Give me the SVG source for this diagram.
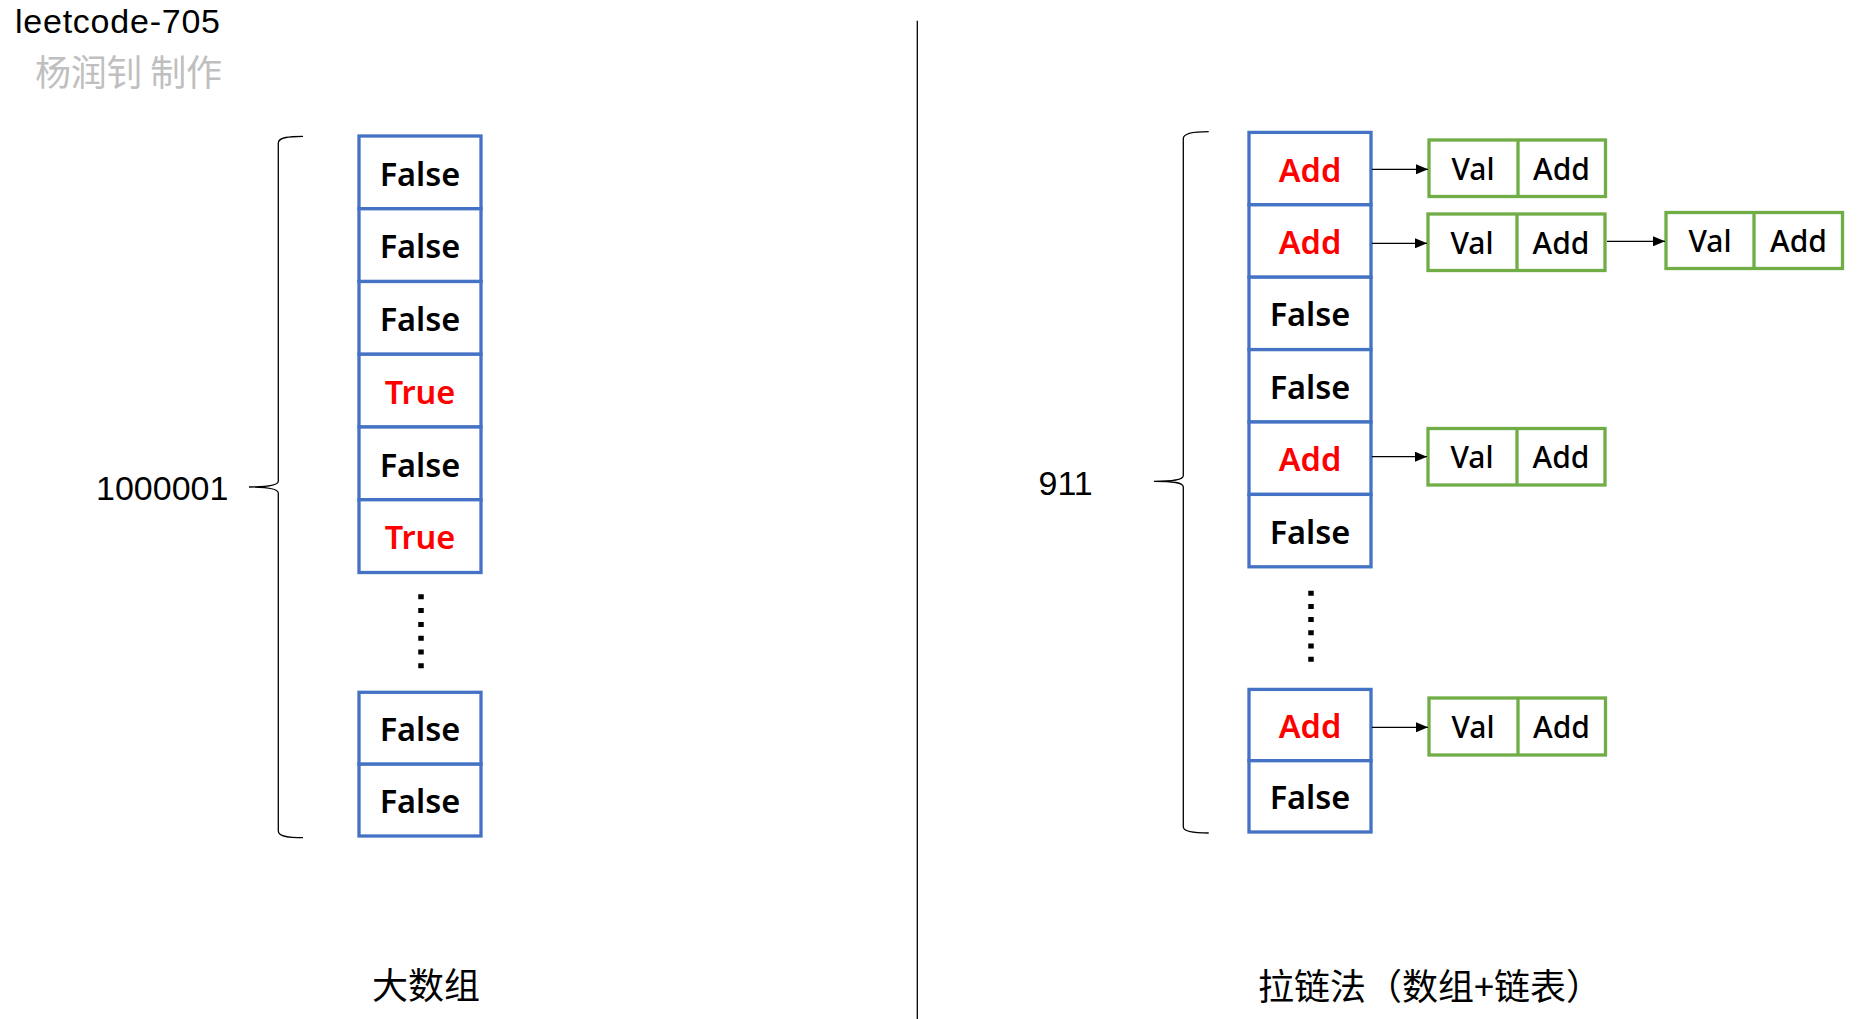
<svg xmlns="http://www.w3.org/2000/svg" width="1863" height="1019" viewBox="0 0 1863 1019">
<style>
  .bg{fill:#ffffff}
  .cell{fill:#ffffff;stroke:#4472c4;stroke-width:3.3}
  .node{fill:#ffffff;stroke:#70ad47;stroke-width:3.3}
  .div{stroke:#70ad47;stroke-width:3.3}
  .ct{font-family:"Noto Sans","Open Sans",sans-serif;font-weight:600;font-size:32.5px;text-anchor:middle;fill:#000000}
  .nt{font-family:"Noto Sans","Open Sans",sans-serif;font-weight:500;font-size:30px;text-anchor:middle;fill:#000000}
  .red{fill:#ff0000}
  .lbl{font-family:"Liberation Sans",Arial,sans-serif;font-size:34px;fill:#000000}
  .cjk{font-family:"Noto Sans CJK SC","Noto Sans",sans-serif;font-size:36px;fill:#000000;text-spacing-trim:space-all}
  .thin{fill:none;stroke:#000000;stroke-width:1.3}
  .conn{fill:none;stroke:#000000;stroke-width:1.3}
  .dots{stroke:#000000;stroke-width:5.5;stroke-dasharray:5 8.8}
</style>
<defs>
  <marker id="ah" markerUnits="userSpaceOnUse" markerWidth="13" markerHeight="10" refX="12" refY="5" orient="auto">
    <path d="M0,0 L12,5 L0,10 Z" fill="#000000"/>
  </marker>
</defs>
<rect class="bg" x="0" y="0" width="1863" height="1019"/>

<!-- header texts -->
<text class="lbl" x="15" y="32.5" font-size="31" textLength="205" lengthAdjust="spacing">leetcode-705</text>
<text class="cjk" x="35" y="86" font-size="29" textLength="187" lengthAdjust="spacing" style="fill:#bfbfbf">杨润钊 制作</text>

<!-- divider -->
<line class="thin" x1="917.3" y1="20.7" x2="917.3" y2="1019"/>

<!-- braces and labels -->
<g id="brace-left">
  <path class="thin" d="M303,136.3 C290,136.3 278.3,137 278.3,143 L278.3,481 C278.3,485.5 268,487 249,487 C268,487 278.3,488.5 278.3,493 L278.3,831 C278.3,837 290,837.7 303,837.7"/>
  <text class="lbl" x="96" y="500">1000001</text>
</g>
<g id="brace-right">
  <path class="thin" d="M1208.7,131.7 C1196,131.7 1183.3,132.5 1183.3,138.5 L1183.3,475.5 C1183.3,480 1173,481.3 1154,481.3 C1173,481.3 1183.3,482.6 1183.3,487 L1183.3,827 C1183.3,832.3 1196,833 1208.7,833"/>
  <text class="lbl" x="1038.5" y="495">911</text>
</g>

<!-- left big array -->
<g id="L1"><rect class="cell" x="359" y="136" width="122" height="72.75"/><text class="ct" x="420" y="185.5">False</text></g>
<g id="L2"><rect class="cell" x="359" y="208.75" width="122" height="72.75"/><text class="ct" x="420" y="258.2">False</text></g>
<g id="L3"><rect class="cell" x="359" y="281.5" width="122" height="72.75"/><text class="ct" x="420" y="331">False</text></g>
<g id="L4"><rect class="cell" x="359" y="354.25" width="122" height="72.75"/><text class="ct red" x="420" y="403.7">True</text></g>
<g id="L5"><rect class="cell" x="359" y="427" width="122" height="72.75"/><text class="ct" x="420" y="476.5">False</text></g>
<g id="L6"><rect class="cell" x="359" y="499.75" width="122" height="72.75"/><text class="ct red" x="420" y="549.2">True</text></g>
<g id="L-dots"><line class="dots" x1="421" y1="594.3" x2="421" y2="669"/></g>
<g id="L7"><rect class="cell" x="359" y="692.3" width="122" height="71.9"/><text class="ct" x="420" y="741.3">False</text></g>
<g id="L8"><rect class="cell" x="359" y="764.2" width="122" height="71.8"/><text class="ct" x="420" y="813.2">False</text></g>
<text class="cjk" x="426" y="999" text-anchor="middle">大数组</text>

<!-- right hash array -->
<g id="R1"><rect class="cell" x="1249" y="132.4" width="122" height="72.4"/><text class="ct red" x="1310" y="181.6">Add</text></g>
<g id="R2"><rect class="cell" x="1249" y="204.8" width="122" height="72.4"/><text class="ct red" x="1310" y="254">Add</text></g>
<g id="R3"><rect class="cell" x="1249" y="277.2" width="122" height="72.4"/><text class="ct" x="1310" y="326.4">False</text></g>
<g id="R4"><rect class="cell" x="1249" y="349.6" width="122" height="72.4"/><text class="ct" x="1310" y="398.8">False</text></g>
<g id="R5"><rect class="cell" x="1249" y="422" width="122" height="72.4"/><text class="ct red" x="1310" y="471.2">Add</text></g>
<g id="R6"><rect class="cell" x="1249" y="494.4" width="122" height="72.4"/><text class="ct" x="1310" y="543.6">False</text></g>
<g id="R-dots"><line class="dots" x1="1311" y1="590.7" x2="1311" y2="664" style="stroke-dasharray:5 8.2"/></g>
<g id="R7"><rect class="cell" x="1249" y="689.4" width="122" height="71.3"/><text class="ct red" x="1310" y="738">Add</text></g>
<g id="R8"><rect class="cell" x="1249" y="760.7" width="122" height="71.3"/><text class="ct" x="1310" y="809.4">False</text></g>
<text class="cjk" x="1258" y="1000">拉链法（数组+链表）</text>

<!-- linked list nodes -->
<g id="N1"><rect class="node" x="1429" y="140" width="176.5" height="56.5"/><line class="div" x1="1518" y1="140" x2="1518" y2="196.5"/><text class="nt" x="1473" y="179.5">Val</text><text class="nt" x="1561.5" y="179.5">Add</text></g>
<g id="N2"><rect class="node" x="1428" y="214" width="177" height="56.5"/><line class="div" x1="1517" y1="214" x2="1517" y2="270.5"/><text class="nt" x="1472" y="253.5">Val</text><text class="nt" x="1561" y="253.5">Add</text></g>
<g id="N3"><rect class="node" x="1666" y="212.5" width="176.5" height="56"/><line class="div" x1="1754" y1="212.5" x2="1754" y2="268.5"/><text class="nt" x="1710" y="252">Val</text><text class="nt" x="1798.5" y="252">Add</text></g>
<g id="N4"><rect class="node" x="1428" y="428.5" width="177" height="56.5"/><line class="div" x1="1517" y1="428.5" x2="1517" y2="485"/><text class="nt" x="1472" y="468">Val</text><text class="nt" x="1561" y="468">Add</text></g>
<g id="N5"><rect class="node" x="1429" y="698" width="176.5" height="57"/><line class="div" x1="1518" y1="698" x2="1518" y2="755"/><text class="nt" x="1473" y="738">Val</text><text class="nt" x="1561.5" y="738">Add</text></g>

<!-- connectors -->
<g id="connectors">
  <line class="conn" x1="1372" y1="169.3" x2="1428" y2="169.3" marker-end="url(#ah)"/>
  <line class="conn" x1="1372" y1="243.3" x2="1427" y2="243.3" marker-end="url(#ah)"/>
  <line class="conn" x1="1607" y1="241.3" x2="1665" y2="241.3" marker-end="url(#ah)"/>
  <line class="conn" x1="1372" y1="456.7" x2="1427" y2="456.7" marker-end="url(#ah)"/>
  <line class="conn" x1="1372" y1="727.3" x2="1428" y2="727.3" marker-end="url(#ah)"/>
</g>
</svg>
